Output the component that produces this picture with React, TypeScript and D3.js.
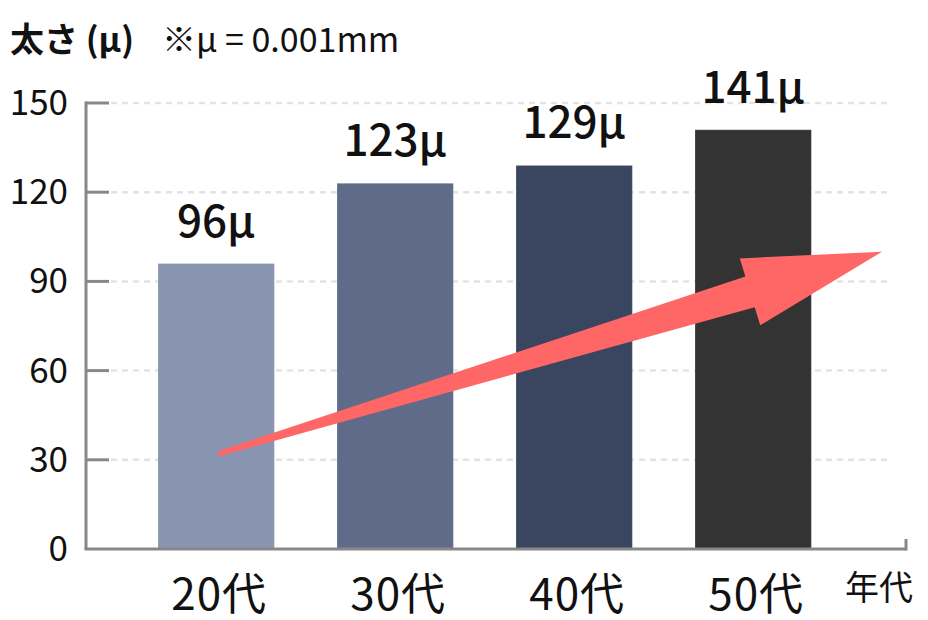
import React from "react";
import * as d3 from "d3";

const categories = ["20代", "30代", "40代", "50代"];
const values = [96, 123, 129, 141];
const valueLabels = ["96μ", "123μ", "129μ", "141μ"];
const barColors = ["#8894b0", "#5f6b89", "#3a455f", "#333333"];
const yTicks = [0, 30, 60, 90, 120, 150];
const titleText = "太さ (μ)";
const noteText = "※μ = 0.001mm";
const xAxisTitle = "年代";
const arrowFrom = 32;
const arrowTo = 100;

const W = 928;
const H = 620;
const FONT = "'Noto Sans CJK JP', 'Noto Sans', sans-serif";

export default function App() {
  const axisX = 86;
  const y = d3.scaleLinear().domain([0, 150]).range([549, 103]);
  const x = d3
    .scaleBand<string>()
    .domain(categories)
    .range([95.35, 874])
    .padding(0.35);
  const bw = x.bandwidth();
  const step = x.step();

  // decorative trend arrow
  const tx = (x(categories[0]) as number) + bw / 2 + 2;
  const ty = y(arrowFrom);
  const px = (x(categories[3]) as number) + bw / 2 + step * 0.72;
  const py = y(arrowTo);
  const dx = px - tx;
  const dy = py - ty;
  const L = Math.hypot(dx, dy);
  const ux = dx / L;
  const uy = dy / L;
  const nx = -uy;
  const ny = ux;
  const headLen = 138;
  const pt = (a: number, w: number) => [tx + ux * a + nx * w, ty + uy * a + ny * w];
  const arrowPts = [
    pt(0, -2.5),
    pt(L - headLen, -16),
    pt(L - headLen, -35),
    [px, py],
    pt(L - headLen, 35),
    pt(L - headLen, 16),
    pt(0, 2.5),
  ];
  const arrowPath = d3.line()(arrowPts as [number, number][]) + "Z";

  return (
    <svg
      width={W}
      height={H}
      style={{ position: "absolute", left: 0, top: 0, background: "#fff" }}
      fontFamily={FONT}
    >
      {/* title */}
      <text x={10} y={52} fontSize={34} fontWeight={700} fill="#111">
        {titleText}
      </text>
      <text x={162} y={52} fontSize={34} fontWeight={400} fill="#111">
        {noteText}
      </text>

      {/* grid lines */}
      {yTicks
        .filter((t) => t > 0)
        .map((t) => (
          <line
            key={"g" + t}
            x1={111}
            x2={887}
            y1={y(t)}
            y2={y(t)}
            stroke="#e3e3e3"
            strokeWidth={2.5}
            strokeDasharray="6 5"
          />
        ))}

      {/* bars */}
      {categories.map((c, i) => (
        <rect
          key={c}
          x={x(c)}
          y={y(values[i])}
          width={bw}
          height={y(0) - y(values[i])}
          fill={barColors[i]}
          stroke="rgba(255,255,255,0.2)"
          strokeWidth={1}
        />
      ))}

      {/* value labels */}
      {categories.map((c, i) => (
        <text
          key={"v" + c}
          x={(x(c) as number) + bw / 2}
          y={y(values[i]) - 27}
          textAnchor="middle"
          fontSize={44}
          fontWeight={500}
          fill="#111"
        >
          {valueLabels[i]}
        </text>
      ))}

      {/* axes */}
      <line x1={axisX} x2={axisX} y1={y(150) - 1.5} y2={y(0)} stroke="#888" strokeWidth={3} />
      <line x1={axisX - 1.5} x2={906} y1={y(0)} y2={y(0)} stroke="#888" strokeWidth={3} />
      <line x1={906} x2={906} y1={y(0) + 1.5} y2={y(0) - 10} stroke="#888" strokeWidth={3} />
      {yTicks
        .filter((t) => t > 0)
        .map((t) => (
          <line key={"t" + t} x1={axisX} x2={109} y1={y(t)} y2={y(t)} stroke="#888" strokeWidth={3} />
        ))}
      {yTicks.map((t) => (
        <text
          key={"yl" + t}
          x={68}
          y={y(t) + 12}
          textAnchor="end"
          fontSize={35}
          fill="#111"
        >
          {t}
        </text>
      ))}

      {/* x labels */}
      {categories.map((c) => (
        <text
          key={"xl" + c}
          x={(x(c) as number) + bw / 2 + 3}
          y={610}
          textAnchor="middle"
          fontSize={44}
          letterSpacing={1}
          fill="#111"
        >
          {c}
        </text>
      ))}
      <text x={845} y={600} fontSize={34} fill="#111">
        {xAxisTitle}
      </text>

      {/* trend arrow */}
      <path d={arrowPath} fill="#ff6666" />
    </svg>
  );
}
